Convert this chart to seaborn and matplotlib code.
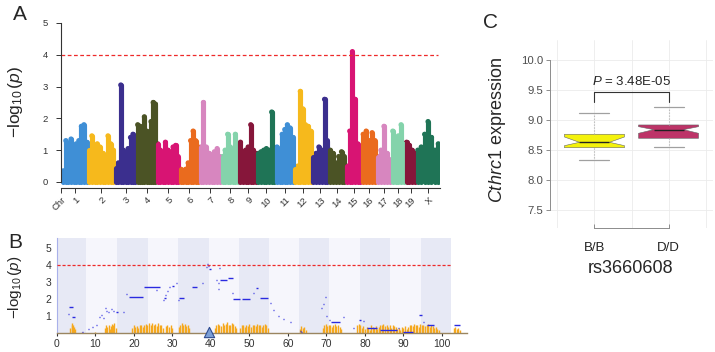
import numpy as np
import pandas as pd
import matplotlib
matplotlib.use('Agg')
import matplotlib.pyplot as plt
import seaborn as sns

sns.set_style('ticks')
plt.rcParams['font.family'] = ['Liberation Sans', 'DejaVu Sans']
plt.rcParams['mathtext.fontset'] = 'custom'
plt.rcParams['mathtext.rm'] = 'Liberation Sans'
plt.rcParams['mathtext.it'] = 'Liberation Sans:italic'

# ---- data: panel A (genome-wide scan) ----
chrom_names = ['1', '2', '3', '4', '5', '6', '7', '8', '9', '10',
               '11', '12', '13', '14', '15', '16', '17', '18', '19', 'X']
chrom_len = [183, 190, 155, 141, 162, 141, 155, 127, 127, 131,
             129, 127, 120, 120, 113, 105, 105, 98, 77, 169]
chrom_colors = ['#3f8fd6', '#f6b91c', '#3b2f8e', '#4b5325', '#d81473',
                '#ea6b1e', '#d786bf', '#84d3ab', '#86163a', '#1f7456']

# column tops of the -log10(p) cloud, left to right in each chromosome
chr1 = [0.35, 1.3, 0.95, 1.35, 1.0, 1.2, 1.3, 1.75, 1.8, 1.25]
chr2 = [1.0, 1.45, 1.0, 1.2, 1.1, 0.9, 0.8, 1.45, 1.2, 1.0]
chr3 = [0.45, 0.6, 3.05, 1.0, 0.9, 1.05, 1.4, 1.5, 1.3]
chr4 = [1.8, 1.75, 1.5, 2.05, 1.6, 1.4, 1.9, 2.5, 2.45]
chr5 = [1.2, 1.0, 0.9, 1.25, 1.0, 0.9, 1.1, 1.15, 0.8]
chr6 = [0.4, 0.35, 0.4, 0.6, 1.3, 1.6, 1.3, 1.1]
chr7 = [1.1, 2.5, 1.1, 0.9, 0.85, 0.95, 1.05, 0.8]
chr8 = [0.8, 1.0, 1.5, 1.1, 1.0, 1.5, 1.2]
chr9 = [1.25, 0.95, 1.0, 1.1, 1.8, 1.0, 0.9]
chr10 = [0.9, 0.95, 1.0, 1.05, 1.0, 2.2, 0.8]
chr11 = [1.1, 0.9, 1.5, 1.65, 1.8, 1.7, 1.4]
chr12 = [0.4, 0.5, 2.85, 2.3, 1.8, 1.75, 1.6]
chr13 = [0.8, 0.9, 1.1, 1.0, 2.6, 1.3]
chr14 = [1.0, 0.9, 0.6, 0.8, 0.95, 0.8]
chr15 = [0.5, 1.6, 4.1, 2.6, 1.2, 1.0]
chr16 = [1.5, 1.6, 1.3, 1.55, 1.3]
chr17 = [0.8, 1.0, 1.75, 0.9, 0.7]
chr18 = [1.6, 1.2, 1.45, 1.8, 1.2]
chr19 = [1.25, 1.15, 1.0, 0.9]
chrX = [1.0, 1.1, 1.5, 1.9, 1.4, 1.0, 1.2]
chrom_peaks = [chr1, chr2, chr3, chr4, chr5, chr6, chr7, chr8, chr9, chr10,
               chr11, chr12, chr13, chr14, chr15, chr16, chr17, chr18, chr19, chrX]

# ---- data: panel B (chr15 fine map, Mb) ----
band_edges = [0, 7.5, 15.6, 23.6, 31.5, 39.5, 47.2, 55.0, 62.9, 70.7,
              78.7, 86.5, 94.5, 102.3]
blue_x0 = [3.0, 2.9, 3.8, 6.6, 8.0, 9.2, 10.2, 10.9, 11.5, 11.9, 12.5, 12.8, 13.2,
           13.9, 14.5, 14.7, 15.4, 17.1, 18.0, 18.8, 22.7, 25.8, 26.9, 27.5, 27.9,
           28.1, 28.6, 29.1, 30.0, 30.9, 31.1, 31.5, 31.8, 32.6, 35.0, 37.7, 38.8,
           39.0, 39.3, 39.6, 40.7, 41.4, 41.8, 41.8, 42.1, 42.4, 44.5, 45.5, 45.6,
           48.0, 51.0, 51.6, 52.7, 55.2, 56.1, 57.4, 58.7, 60.6, 63.0, 63.4, 64.3,
           65.6, 68.7, 69.1, 69.6, 70.0, 70.6, 71.3, 73.4, 74.2, 75.2, 76.9, 77.3,
           78.5, 79.5, 79.9, 80.4, 83.9, 88.5, 90.0, 92.9, 94.0, 95.0, 96.0, 98.6,
           101.2, 103.0]
blue_x1 = [4.1, 3.1, 4.7, 6.8, 8.2, 9.4, 10.4, 11.1, 11.7, 12.1, 12.7, 13.0, 13.6,
           14.2, 14.8, 14.9, 15.8, 17.3, 18.2, 22.4, 26.8, 26.0, 27.1, 27.7, 28.3,
           28.3, 28.8, 29.3, 30.4, 31.1, 31.3, 31.7, 33.1, 32.8, 36.3, 37.9, 39.0,
           39.2, 39.5, 39.9, 40.9, 41.6, 42.0, 42.0, 42.3, 44.1, 45.8, 45.7, 47.6,
           50.2, 51.2, 52.2, 54.8, 55.5, 56.3, 57.6, 58.9, 60.8, 63.3, 63.6, 64.5,
           65.8, 68.9, 69.3, 69.8, 70.2, 70.8, 73.5, 73.6, 74.6, 75.4, 77.1, 77.5,
           79.0, 79.7, 80.1, 83.0, 88.2, 88.8, 92.6, 93.1, 94.8, 95.4, 97.8, 98.8,
           101.4, 104.8]
blue_y = [1.52, 1.12, 0.97, 0.03, 0.23, 0.38, 0.48, 0.93, 1.06, 0.87, 1.5, 1.32, 1.27,
          1.4, 1.3, 1.52, 1.25, 1.25, 2.3, 2.15, 2.7, 2.55, 2.4, 1.95, 2.05,
          2.25, 2.5, 2.7, 2.8, 2.95, 1.85, 1.95, 2.05, 2.2, 2.75, 2.95, 3.93,
          4.06, 3.96, 3.77, 3.33, 3.13, 2.94, 2.63, 3.85, 3.13, 3.23, 2.35, 2.0,
          2.0, 2.35, 2.65, 2.1, 1.75, 1.35, 1.02, 0.82, 0.67, 0.12, 0.04, 0.5,
          0.7, 1.45, 1.7, 2.14, 1.02, 0.77, 0.67, 0.97, 0.95, 0.77, 0.27, 0.47,
          0.77, 0.7, 0.47, 0.27, 0.18, 0.27, 0.04, 0.47, 1.06, 0.67, 0.47, 0.18,
          0.12, 0.5]
orange_x = [3.5, 3.8, 4.0, 4.2, 4.5, 4.8, 6.5, 9.8,
            12.5, 12.8, 13.1, 13.4, 13.7, 14.0, 14.3, 14.6, 14.9, 15.2,
            19.5, 19.9, 20.3, 20.7, 21.1, 21.5, 21.9, 22.3, 22.7, 23.1, 23.5,
            23.9, 24.3, 24.7, 25.1, 25.5, 25.9, 26.3, 26.7, 27.1, 27.5,
            28.3, 28.7, 29.1, 29.5, 29.9,
            31.6, 32.0, 32.4, 32.8, 33.2, 33.6, 34.0, 34.4,
            41.0, 41.4, 41.8, 42.2, 42.6, 43.0, 43.4, 43.8, 44.2, 44.6, 45.0,
            45.4, 45.8, 46.2, 46.6,
            47.6, 48.0, 48.4, 48.8, 49.2, 49.6, 50.0, 50.4, 50.8, 51.2, 51.6,
            52.0, 52.4, 52.8, 53.2, 53.6, 54.0, 54.4, 54.8,
            63.0, 63.4, 63.8, 64.2, 64.6,
            69.0, 69.4, 69.8, 70.2, 70.6, 71.0, 71.4, 71.8, 72.2, 72.6, 73.0,
            73.4, 73.8,
            78.0, 78.4, 78.8, 79.2, 79.6, 80.0, 80.4, 80.8, 81.2, 81.6,
            82.0, 82.4, 82.8, 83.2, 83.6, 84.0, 84.4, 84.8, 85.2, 85.6,
            86.0, 86.4, 86.8, 87.2, 87.6, 88.0, 88.4, 88.8, 89.2, 89.6,
            90.0, 90.4, 90.8, 91.2, 91.6, 92.0, 92.4, 92.8, 93.2, 93.6,
            94.0, 94.4, 94.8, 95.2, 95.6, 96.0, 96.4, 96.8, 97.2, 97.6,
            98.0, 98.4, 98.8, 99.2,
            103.0, 103.4, 103.8, 104.2, 104.6]
orange_h = [0.3, 0.45, 0.6, 0.5, 0.35, 0.25, 0.05, 0.08,
            0.3, 0.5, 0.35, 0.45, 0.25, 0.4, 0.55, 0.45, 0.6, 0.3,
            0.3, 0.45, 0.35, 0.4, 0.3, 0.45, 0.5, 0.35, 0.45, 0.55, 0.5,
            0.6, 0.45, 0.6, 0.5, 0.55, 0.4, 0.6, 0.5, 0.45, 0.3,
            0.4, 0.5, 0.35, 0.45, 0.3,
            0.35, 0.5, 0.6, 0.45, 0.55, 0.4, 0.5, 0.3,
            0.3, 0.45, 0.55, 0.5, 0.4, 0.6, 0.45, 0.55, 0.65, 0.5, 0.45,
            0.6, 0.55, 0.4, 0.3,
            0.3, 0.45, 0.5, 0.35, 0.45, 0.4, 0.55, 0.35, 0.5, 0.45, 0.4,
            0.55, 0.45, 0.5, 0.35, 0.5, 0.55, 0.45, 0.3,
            0.25, 0.4, 0.3, 0.35, 0.2,
            0.3, 0.5, 0.55, 0.4, 0.45, 0.5, 0.35, 0.45, 0.55, 0.4, 0.5,
            0.35, 0.25,
            0.45, 0.55, 0.5, 0.3, 0.4, 0.25, 0.35, 0.3, 0.2, 0.45,
            0.35, 0.3, 0.4, 0.25, 0.35, 0.5, 0.45, 0.55, 0.4, 0.5,
            0.35, 0.45, 0.3, 0.5, 0.4, 0.35, 0.25, 0.3, 0.2, 0.35,
            0.3, 0.4, 0.25, 0.35, 0.45, 0.5, 0.4, 0.55, 0.45, 0.5,
            0.35, 0.55, 0.45, 0.5, 0.4, 0.45, 0.55, 0.35, 0.5, 0.4,
            0.3, 0.35, 0.25, 0.2,
            0.3, 0.35, 0.25, 0.3, 0.2]
lead_snp = 39.5

# ---- data: panel C (expression by genotype) ----
geno = ['B/B', 'D/D']
geno_colors = ['#f4f20c', '#bd3468']
box_lo = [8.333, 8.555]
box_q1 = [8.538, 8.695]
box_med = [8.628, 8.839]
box_q3 = [8.762, 8.917]
box_hi = [9.112, 9.222]
notch_lo = [8.572, 8.778]
notch_hi = [8.717, 8.889]
p_text = '3.48E-05'

fig = plt.figure(figsize=(7.15, 3.52), dpi=100)

# ================= Panel A =================
axA = fig.add_axes([61 / 715, 1 - 188 / 352, 379 / 715, 165 / 352])
rows = []
starts = np.concatenate([[0], np.cumsum(chrom_len)[:-1]])
for i, (name, peaks) in enumerate(zip(chrom_names, chrom_peaks)):
    n = len(peaks)
    for j, h in enumerate(peaks):
        rows.append({'chrom': name, 'pos': starts[i] + (j + 0.5) / n * chrom_len[i], 'logp': h})
dfA = pd.DataFrame(rows)
pal = {name: chrom_colors[i % 10] for i, name in enumerate(chrom_names)}

lc = axA.vlines(dfA['pos'], 0, dfA['logp'], colors=[pal[c] for c in dfA['chrom']], lw=3.7)
lc.set_capstyle('round')
sns.scatterplot(data=dfA, x='pos', y='logp', hue='chrom', palette=pal, s=14,
                linewidth=0, legend=False, ax=axA)
axA.plot([-7, 2660], [4, 4], color='#ee2a2a', ls=(0, (3, 2)), lw=0.9)

axA.set_xlim(-7, sum(chrom_len))
axA.set_ylim(-0.19, 5.0)
sns.despine(ax=axA)
axA.spines['left'].set_bounds(0, 5)
for s in ['left', 'bottom']:
    axA.spines[s].set_color('#333333')
    axA.spines[s].set_linewidth(0.8)
centers = starts + np.array(chrom_len) / 2
axA.set_xticks([-7] + list(centers))
axA.set_xticklabels(['Chr'] + chrom_names, rotation=45, ha='right', va='top',
                    rotation_mode='anchor')
axA.set_yticks(range(6))
axA.tick_params(axis='both', labelsize=6.8, colors='#333333', length=3.5, width=0.7)
axA.tick_params(axis='y', pad=6)
axA.tick_params(axis='x', pad=2)
axA.set_xlabel('')
axA.set_ylabel(r'$-\log_{10}(\mathit{p})$', fontsize=12.5)
axA.yaxis.label.set_va('center')
axA.yaxis.set_label_coords((15 - 61) / 379, 0.524)

# ================= Panel B =================
axB = fig.add_axes([57 / 715, 19 / 352, 410 / 715, 95 / 352])
for k in range(len(band_edges) - 1):
    axB.axvspan(band_edges[k], band_edges[k + 1], color='#e7e9f5' if k % 2 == 0 else '#f6f6fc',
                lw=0, zorder=0)
axB.vlines(orange_x, 0, orange_h, color='#f5a81d', lw=1.0, zorder=2)
axB.hlines(blue_y, blue_x0, blue_x1, color='#2a2ae0', lw=1.0, zorder=3)
axB.plot([0, band_edges[-1]], [4, 4], color='#ee2a2a', ls=(0, (2.5, 1.5)), lw=0.9, zorder=3)
sns.scatterplot(x=[lead_snp], y=[0.05], marker='^', s=55, color='#7b9fd6',
                edgecolor='#2f4b8f', linewidth=0.8, ax=axB, clip_on=False, zorder=6)
axB.set_xlim(0, 106.5)
axB.set_ylim(0, 5.62)
sns.despine(ax=axB)
axB.spines['left'].set_color('#a9b1ea')
axB.spines['bottom'].set_color('#9a8560')
axB.spines['bottom'].set_linewidth(1.0)
axB.set_xticks(range(0, 101, 10))
axB.set_yticks([1, 2, 3, 4, 5])
axB.tick_params(axis='x', labelsize=7.5, colors='#333333', length=2, pad=2)
axB.tick_params(axis='y', labelsize=7.5, colors='#333333', length=0, pad=4)
axB.set_ylabel(r'$-\log_{10}(\mathit{p})$', fontsize=11)
axB.yaxis.label.set_va('center')
axB.yaxis.set_label_coords((15 - 57) / 410, 0.479)

# ================= Panel C =================
axC = fig.add_axes([550 / 715, 1 - 228 / 352, 163 / 715, 188 / 352])
axC.set_xlim(-0.6, 1.6)
axC.set_ylim(7.2, 10.333)
for xv in [-0.5, 0, 0.5, 1, 1.5]:
    axC.axvline(xv, color='#ebebeb', lw=0.6, zorder=0)
for yv in np.arange(7.5, 10.01, 0.5):
    axC.axhline(yv, color='#ebebeb', lw=0.6, zorder=0)

stats = []
for i in range(len(geno)):
    stats.append(dict(label=geno[i], med=box_med[i], q1=box_q1[i], q3=box_q3[i],
                      whislo=box_lo[i], whishi=box_hi[i], cilo=notch_lo[i],
                      cihi=notch_hi[i], fliers=[]))
bp = axC.bxp(stats, positions=[0, 1], widths=0.81, shownotches=True, patch_artist=True,
             showfliers=False, manage_ticks=False,
             boxprops=dict(edgecolor='#666666', lw=0.4),
             medianprops=dict(color='#222222', lw=1.0),
             whiskerprops=dict(color='#b0b0b0', ls=':', lw=0.8),
             capprops=dict(color='#a0a0a0', lw=0.9))
for patch, col in zip(bp['boxes'], geno_colors):
    patch.set_facecolor(col)

axC.plot([0, 0, 1, 1], [9.305, 9.472, 9.472, 9.305], color='#333333', lw=0.8)
axC.text(0.5, 9.64, r'$\mathit{P}$ = ' + p_text, ha='center', va='center', fontsize=9.5)

sns.despine(ax=axC)
axC.spines['left'].set_bounds(7.5, 10)
axC.spines['bottom'].set_bounds(0, 1)
for s in ['left', 'bottom']:
    axC.spines[s].set_color('#8c8c8c')
    axC.spines[s].set_linewidth(0.7)
axC.set_yticks([7.5, 8.0, 8.5, 9.0, 9.5, 10.0])
axC.set_yticklabels(['7.5', '8.0', '8.5', '9.0', '9.5', '10.0'])
axC.set_xticks([0, 1])
axC.set_xticklabels(geno)
axC.tick_params(axis='y', labelsize=8.2, labelcolor='#4d4d4d', color='#8c8c8c',
                length=3, width=0.7, pad=2)
axC.tick_params(axis='x', labelsize=9.5, labelcolor='#222222', color='#8c8c8c',
                direction='in', length=3, width=0.7, pad=10)
axC.set_ylabel(r'$\mathit{Cthrc1}$ expression', fontsize=13)
axC.yaxis.label.set_va('center')
axC.yaxis.set_label_coords((498 - 550) / 163, 0.52)
axC.set_xlabel('rs3660608', fontsize=13)
axC.xaxis.label.set_va('center')
axC.xaxis.set_label_coords((631 - 550) / 163, (228 - 268.5) / 188)

# panel letters
fig.text(20 / 715, 1 - 14 / 352, 'A', fontsize=15, ha='center', va='center')
fig.text(15 / 715, 1 - 243 / 352, 'B', fontsize=15, ha='center', va='center')
fig.text(490 / 715, 1 - 22 / 352, 'C', fontsize=15, ha='center', va='center')

fig.savefig('out.png', dpi=100)
